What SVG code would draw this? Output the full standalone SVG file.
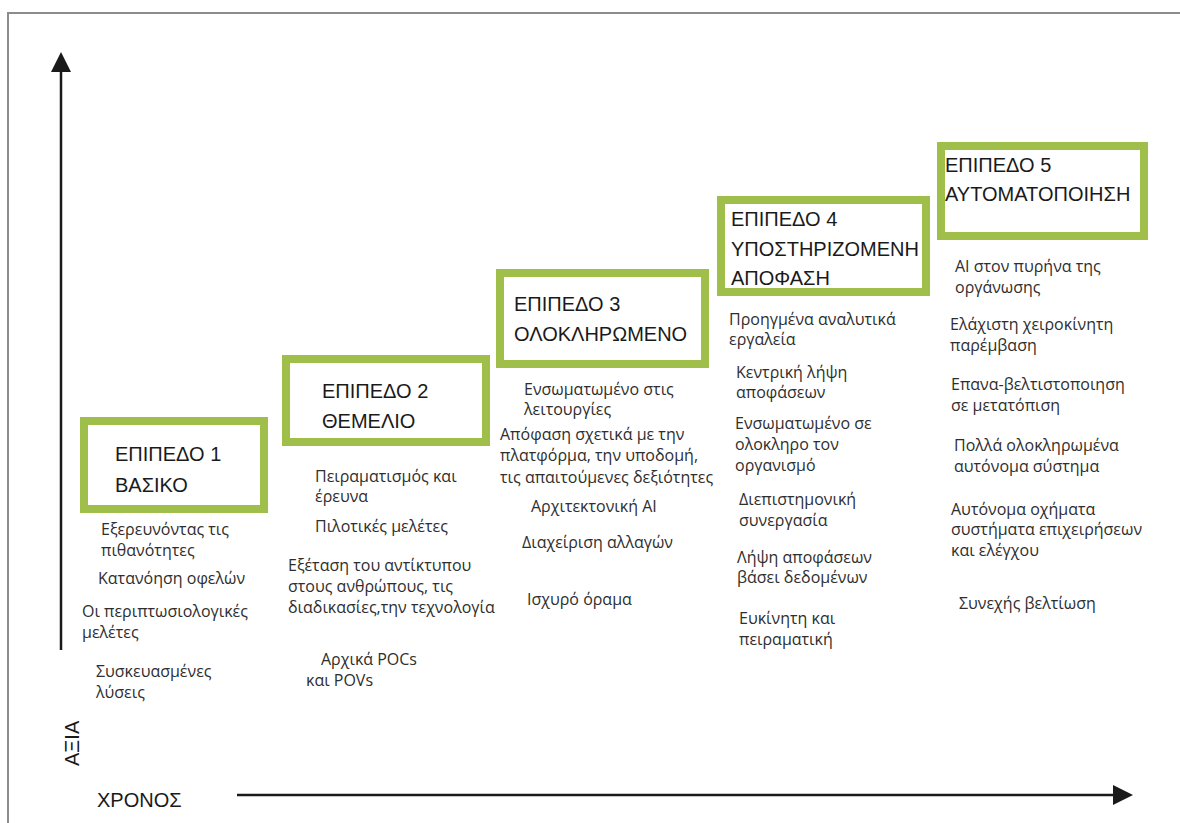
<svg xmlns="http://www.w3.org/2000/svg" width="1180" height="823" viewBox="0 0 1180 823">
  <style>
    .frame { fill: none; stroke: #8c8c8c; stroke-width: 2; }
    .axis { stroke: #1a1a1a; stroke-width: 2.5; fill: none; }
    .box { fill: #ffffff; stroke: #9fbe4a; stroke-width: 8; }
    .title { font-family: "Liberation Sans", Arial, sans-serif; font-size: 20px; fill: #1a1a1a; }
    .item { font-family: "Open Sans", "Liberation Sans", sans-serif; font-size: 16px; fill: #2e2e2e; }
    .axlabel { font-family: "Liberation Sans", Arial, sans-serif; font-size: 20px; fill: #1a1a1a; }
  </style>
  <rect width="1180" height="823" fill="#ffffff"/>

  <!-- outer frame (top and left edges) -->
  <path class="frame" d="M8,823 L8,13 L1180,13"/>

  <!-- axes -->
  <g id="connectors">
    <line class="axis" x1="61" y1="650" x2="61" y2="72"/>
    <path d="M51,72 L61,52 L71,72 Z" fill="#1a1a1a"/>
    <line class="axis" x1="237" y1="795" x2="1113" y2="795"/>
    <path d="M1113,785 L1133,795 L1113,805 Z" fill="#1a1a1a"/>
  </g>

  <g id="axis-labels">
    <text class="axlabel" x="97" y="807">ΧΡΟΝΟΣ</text>
    <text class="axlabel" transform="translate(79,766) rotate(-90)">ΑΞΙΑ</text>
  </g>

  <!-- level 1 -->
  <g id="level1">
    <rect class="box" x="84" y="421" width="180" height="88"/>
    <text class="title" x="115" y="461">ΕΠΙΠΕΔΟ 1</text>
    <text class="title" x="115" y="492">ΒΑΣΙΚΟ</text>
    <text class="item" x="101" y="535">Εξερευνόντας τις</text>
    <text class="item" x="101" y="556">πιθανότητες</text>
    <text class="item" x="98" y="584">Κατανόηση οφελών</text>
    <text class="item" x="82" y="617">Οι περιπτωσιολογικές</text>
    <text class="item" x="82" y="638">μελέτες</text>
    <text class="item" x="96" y="677">Συσκευασμένες</text>
    <text class="item" x="96" y="698">λύσεις</text>
  </g>

  <!-- level 2 -->
  <g id="level2">
    <rect class="box" x="286" y="359" width="200" height="83"/>
    <text class="title" x="322" y="398">ΕΠΙΠΕΔΟ 2</text>
    <text class="title" x="322" y="428">ΘΕΜΕΛΙΟ</text>
    <text class="item" x="315" y="482">Πειραματισμός και</text>
    <text class="item" x="315" y="502">έρευνα</text>
    <text class="item" x="315" y="532">Πιλοτικές μελέτες</text>
    <text class="item" x="288" y="571">Εξέταση του αντίκτυπου</text>
    <text class="item" x="288" y="592">στους ανθρώπους, τις</text>
    <text class="item" x="288" y="613">διαδικασίες,την τεχνολογία</text>
    <text class="item" x="321" y="665">Αρχικά POCs</text>
    <text class="item" x="306" y="686">και POVs</text>
  </g>

  <!-- level 3 -->
  <g id="level3">
    <rect class="box" x="500" y="273" width="205" height="91"/>
    <text class="title" x="514" y="311">ΕΠΙΠΕΔΟ 3</text>
    <text class="title" x="514" y="341">ΟΛΟΚΛΗΡΩΜΕΝΟ</text>
    <text class="item" x="524" y="395">Ενσωματωμένο στις</text>
    <text class="item" x="524" y="415">λειτουργίες</text>
    <text class="item" x="500" y="440">Απόφαση σχετικά με την</text>
    <text class="item" x="500" y="461">πλατφόρμα, την υποδομή,</text>
    <text class="item" x="500" y="483">τις απαιτούμενες δεξιότητες</text>
    <text class="item" x="531" y="512">Αρχιτεκτονική AI</text>
    <text class="item" x="522" y="548">Διαχείριση αλλαγών</text>
    <text class="item" x="527" y="605">Ισχυρό όραμα</text>
  </g>

  <!-- level 4 -->
  <g id="level4">
    <rect class="box" x="721" y="200" width="205" height="92"/>
    <text class="title" x="731" y="226">ΕΠΙΠΕΔΟ 4</text>
    <text class="title" x="731" y="256">ΥΠΟΣΤΗΡΙΖΟΜΕΝΗ</text>
    <text class="title" x="731" y="285">ΑΠΟΦΑΣΗ</text>
    <text class="item" x="729" y="325">Προηγμένα αναλυτικά</text>
    <text class="item" x="729" y="345">εργαλεία</text>
    <text class="item" x="736" y="378">Κεντρική λήψη</text>
    <text class="item" x="736" y="398">αποφάσεων</text>
    <text class="item" x="735" y="429">Ενσωματωμένο σε</text>
    <text class="item" x="735" y="450">ολοκληρο τον</text>
    <text class="item" x="735" y="471">οργανισμό</text>
    <text class="item" x="739" y="505">Διεπιστημονική</text>
    <text class="item" x="739" y="526">συνεργασία</text>
    <text class="item" x="737" y="563">Λήψη αποφάσεων</text>
    <text class="item" x="737" y="583">βάσει δεδομένων</text>
    <text class="item" x="739" y="624">Ευκίνητη και</text>
    <text class="item" x="739" y="645">πειραματική</text>
  </g>

  <!-- level 5 -->
  <g id="level5">
    <rect class="box" x="941" y="146" width="203" height="90"/>
    <text class="title" x="945" y="172">ΕΠΙΠΕΔΟ 5</text>
    <text class="title" x="945" y="201">ΑΥΤΟΜΑΤΟΠΟΙΗΣΗ</text>
    <text class="item" x="955" y="272">AI στον πυρήνα της</text>
    <text class="item" x="955" y="293">οργάνωσης</text>
    <text class="item" x="950" y="330">Ελάχιστη χειροκίνητη</text>
    <text class="item" x="950" y="351">παρέμβαση</text>
    <text class="item" x="951" y="390">Επανα-βελτιστοποιηση</text>
    <text class="item" x="951" y="411">σε μετατόπιση</text>
    <text class="item" x="954" y="451">Πολλά ολοκληρωμένα</text>
    <text class="item" x="954" y="472">αυτόνομα σύστημα</text>
    <text class="item" x="951" y="515">Αυτόνομα οχήματα</text>
    <text class="item" x="951" y="535">συστήματα επιχειρήσεων</text>
    <text class="item" x="951" y="556">και ελέγχου</text>
    <text class="item" x="959" y="609">Συνεχής βελτίωση</text>
  </g>
</svg>
